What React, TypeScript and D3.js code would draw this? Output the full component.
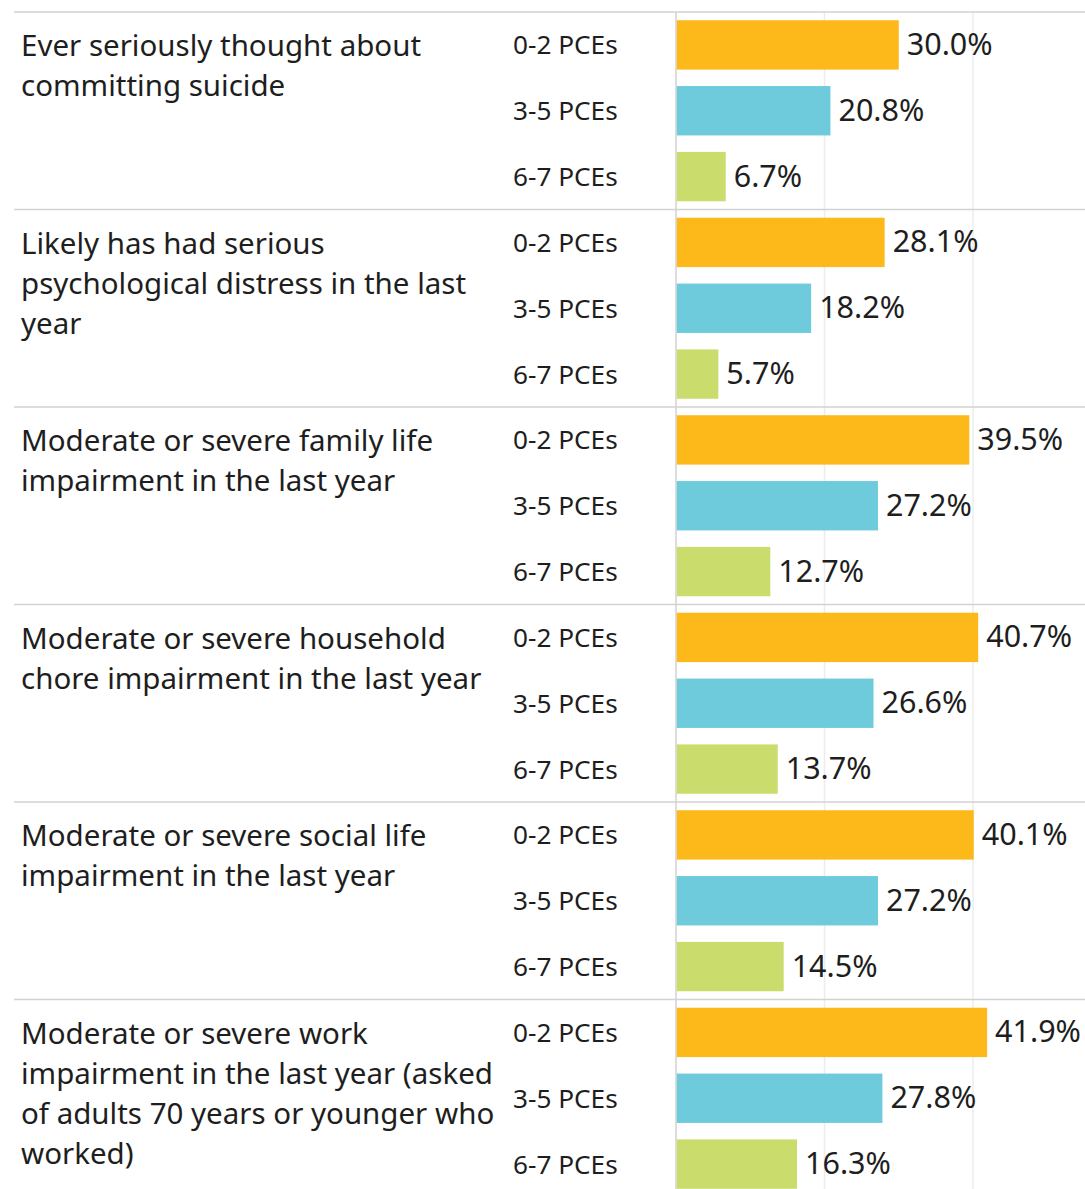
import React from "react";
import * as d3 from "d3";

const categories: string[][] = [
  ["Ever seriously thought about", "committing suicide"],
  ["Likely has had serious", "psychological distress in the last", "year"],
  ["Moderate or severe family life", "impairment in the last year"],
  ["Moderate or severe household", "chore impairment in the last year"],
  ["Moderate or severe social life", "impairment in the last year"],
  ["Moderate or severe work", "impairment in the last year (asked", "of adults 70 years or younger who", "worked)"],
];
const groups = ["0-2 PCEs", "3-5 PCEs", "6-7 PCEs"];
const values02 = [30.0, 28.1, 39.5, 40.7, 40.1, 41.9];
const values35 = [20.8, 18.2, 27.2, 26.6, 27.2, 27.8];
const values67 = [6.7, 5.7, 12.7, 13.7, 14.5, 16.3];
const gridTicks = [20, 40];
const colors = ["#FDB81A", "#6DCBDC", "#C9DC6C"];

const W = 1085;
const H = 1189;
const FONT = "'Noto Sans', 'Open Sans', sans-serif";
const TEXT = "#1e1e1e";

export default function App() {
  const series = [values02, values35, values67];
  const catIdx = categories.map((_, i) => String(i));
  const y = d3.scaleBand<string>().domain(catIdx).range([12, 12 + 6 * 197.5]).padding(0);
  const yi = d3.scaleBand<string>().domain(groups).range([0, y.bandwidth()]).paddingInner(0.25).paddingOuter(0.125);
  const x = d3.scaleLinear().domain([0, 40]).range([676, 973]);

  return (
    <svg width={W} height={H} style={{ position: "absolute", left: 0, top: 0, background: "#fff" }} fontFamily={FONT}>
      {gridTicks.map((t) => (
        <line key={t} x1={x(t)} x2={x(t)} y1={12} y2={H} stroke="#ececec" strokeWidth={1.5} />
      ))}
      {catIdx.map((c) => (
        <line key={"sep" + c} x1={14} x2={W} y1={y(c)!} y2={y(c)!} stroke="#d2d2d2" strokeWidth={1.5} />
      ))}
      <line x1={x(0)} x2={x(0)} y1={12} y2={H} stroke="#d2d2d2" strokeWidth={1.5} />
      {catIdx.map((c, ci) => {
        const gy = y(c)!;
        return (
          <g key={c}>
            {categories[ci].map((line, li) => (
              <text key={li} x={21} y={gy + 44 + li * 40} fontSize={29.5} fill={TEXT}>
                {line}
              </text>
            ))}
            {groups.map((g, gi) => {
              const v = series[gi][ci];
              const by = gy + yi(g)!;
              const cy = by + yi.bandwidth() / 2;
              return (
                <g key={g}>
                  <text x={513} y={cy + 9.5} fontSize={26.2} fill={TEXT}>
                    {g}
                  </text>
                  <rect x={x(0) + 0.75} y={by} width={x(v) - x(0) - 0.75} height={yi.bandwidth()} fill={colors[gi]} />
                  <text x={x(v) + 8} y={cy + 10} fontSize={30.5} fill={TEXT}>
                    {v.toFixed(1) + "%"}
                  </text>
                </g>
              );
            })}
          </g>
        );
      })}
    </svg>
  );
}
